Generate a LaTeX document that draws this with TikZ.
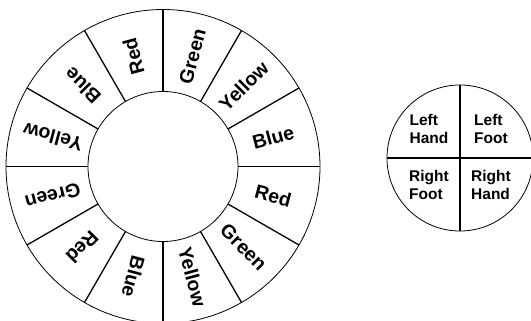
\documentclass[tikz,border=0pt]{standalone}
\usepackage{fontspec}
\setmainfont{Liberation Sans}
\usepackage{tikz}
\usetikzlibrary{positioning}

\begin{document}
\begin{tikzpicture}[
  font=\bfseries,
  every node/.style={align=center},
  ring/.style={circle, draw, line width=0.8pt, inner sep=0pt, outer sep=0pt},
  spoke/.style={line width=1.3pt},
  colour/.style={font=\fontsize{19.5}{21}\selectfont\bfseries, inner sep=0pt},
  limb/.style={font=\fontsize{15.5}{18}\selectfont\bfseries, align=left, inner sep=0pt}
]
  \useasboundingbox (0,0) rectangle (531pt,-321pt);

  % spinner wheel
  \node[ring, minimum size=314pt] (wheel) at (163pt,-166.5pt) {};
  \node[ring, minimum size=150pt] (hub) at (wheel.center) {};

  \draw[spoke] (hub.0) -- (wheel.0);
  \draw[spoke] (hub.30) -- (wheel.30);
  \draw[spoke] (hub.60) -- (wheel.60);
  \draw[spoke] (hub.90) -- (wheel.90);
  \draw[spoke] (hub.120) -- (wheel.120);
  \draw[spoke] (hub.150) -- (wheel.150);
  \draw[spoke] (hub.180) -- (wheel.180);
  \draw[spoke] (hub.210) -- (wheel.210);
  \draw[spoke] (hub.240) -- (wheel.240);
  \draw[spoke] (hub.270) -- (wheel.270);
  \draw[spoke] (hub.300) -- (wheel.300);
  \draw[spoke] (hub.330) -- (wheel.330);

  \node[colour, rotate=15] (blueA) at ([shift={(15:114pt)}]wheel.center) {Blue};
  \node[colour, rotate=45] (yellowA) at ([shift={(45:114pt)}]wheel.center) {Yellow};
  \node[colour, rotate=75] (greenA) at ([shift={(75:114pt)}]wheel.center) {Green};
  \node[colour, rotate=105] (redA) at ([shift={(105:114pt)}]wheel.center) {Red};
  \node[colour, rotate=135] (blueB) at ([shift={(135:114pt)}]wheel.center) {Blue};
  \node[colour, rotate=165] (yellowB) at ([shift={(165:114pt)}]wheel.center) {Yellow};
  \node[colour, rotate=195] (greenB) at ([shift={(195:114pt)}]wheel.center) {Green};
  \node[colour, rotate=225] (redB) at ([shift={(225:114pt)}]wheel.center) {Red};
  \node[colour, rotate=255] (blueC) at ([shift={(255:114pt)}]wheel.center) {Blue};
  \node[colour, rotate=285] (yellowC) at ([shift={(285:114pt)}]wheel.center) {Yellow};
  \node[colour, rotate=315] (greenC) at ([shift={(315:114pt)}]wheel.center) {Green};
  \node[colour, rotate=345] (redC) at ([shift={(345:114pt)}]wheel.center) {Red};

  % body parts
  \node[ring, minimum size=146pt] (limbs) at (460pt,-158pt) {};
  \draw[spoke] (limbs.north) -- (limbs.south);
  \draw[spoke] (limbs.west) -- (limbs.east);

  \node[limb] (lhand) at ([shift={(-31pt,29pt)}]limbs.center) {Left\\Hand};
  \node[limb] (lfoot) at ([shift={(31pt,29pt)}]limbs.center) {Left\\Foot};
  \node[limb] (rfoot) at ([shift={(-31pt,-27pt)}]limbs.center) {Right\\Foot};
  \node[limb] (rhand) at ([shift={(31pt,-27pt)}]limbs.center) {Right\\Hand};
\end{tikzpicture}
\end{document}
